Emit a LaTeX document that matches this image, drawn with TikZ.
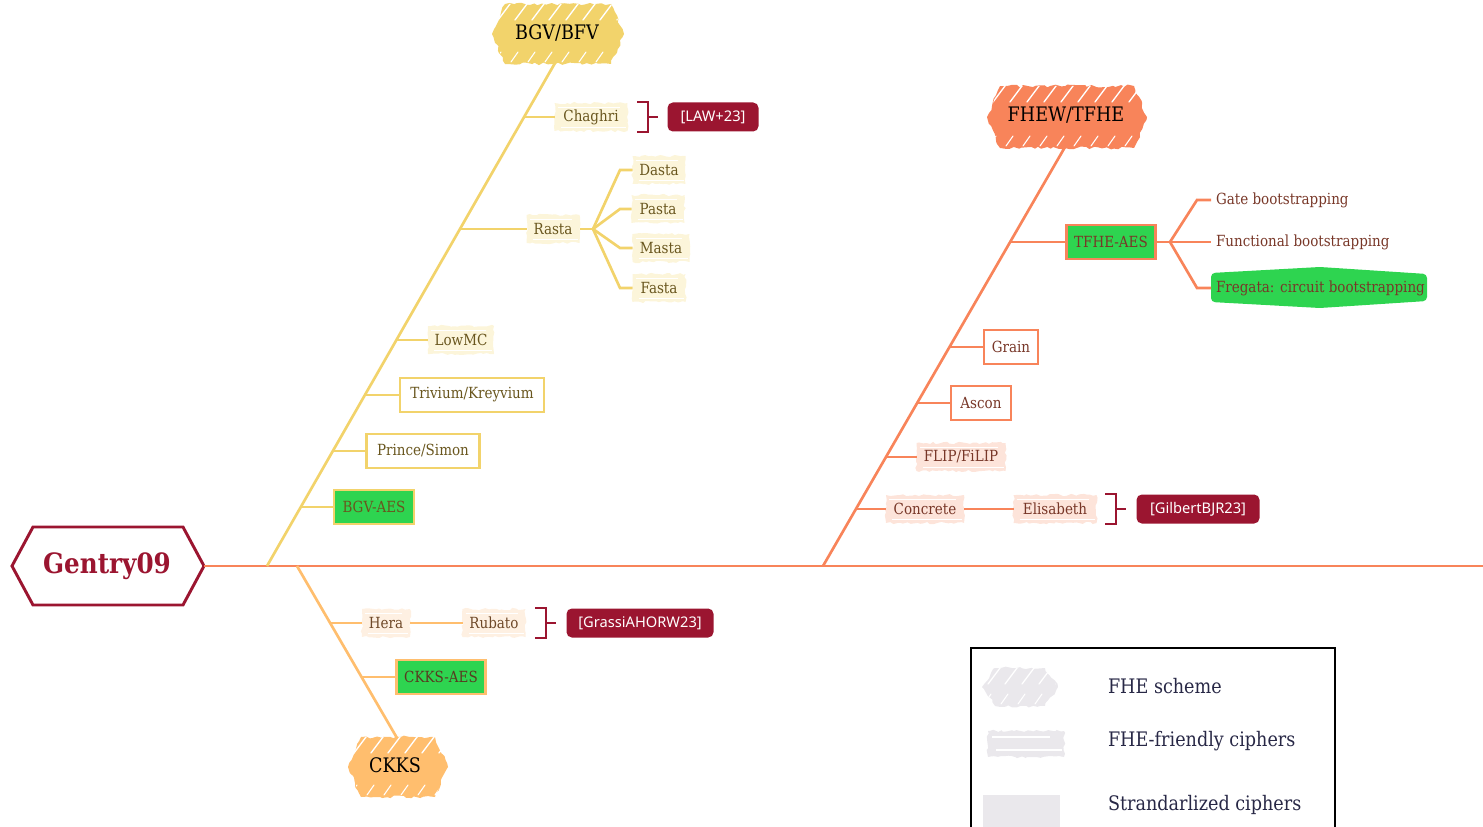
\documentclass[tikz,border=0pt]{standalone}
\usepackage{fontspec}
\setmainfont{DejaVu Serif}[FakeStretch=0.88]
\setsansfont{Noto Sans}
\usetikzlibrary{calc,decorations.pathmorphing}
\pgfdeclarelayer{background}
\pgfsetlayers{background,main}

\newdimen\px \px=0.75pt

\definecolor{gold}{RGB}{242,211,107}
\definecolor{coral}{RGB}{248,132,90}
\definecolor{apricot}{RGB}{255,190,110}
\definecolor{wine}{RGB}{155,21,48}
\definecolor{leaf}{RGB}{46,212,80}
\definecolor{paleyellow}{RGB}{252,245,218}
\definecolor{peach}{RGB}{253,228,218}
\definecolor{cream}{RGB}{254,240,226}
\definecolor{swatch}{RGB}{234,232,236}
\definecolor{olive}{RGB}{105,86,30}
\definecolor{rust}{RGB}{120,55,40}
\definecolor{umber}{RGB}{110,72,40}
\definecolor{ink}{RGB}{40,40,70}

% hatched hexagon for an FHE scheme: cx, cy, half width, half height, colour
\newcommand\schemehex[5]{%
  \begin{scope}
    \fill[#5, decorate, decoration={random steps,segment length=3pt,amplitude=1.1pt}]
      (#1-#3,#2) -- (#1-#3+13,#2-#4) -- (#1+#3-13,#2-#4) -- (#1+#3,#2)
      -- (#1+#3-13,#2+#4) -- (#1-#3+13,#2+#4) -- cycle;
    \clip (#1-#3,#2) -- (#1-#3+13,#2-#4) -- (#1+#3-13,#2-#4) -- (#1+#3,#2)
      -- (#1+#3-13,#2+#4) -- (#1-#3+13,#2+#4) -- cycle;
    \foreach \k in {0,...,12}
      \draw[white, line width=1pt, line cap=round]
        ({#1-#3+6+\k*17},{#2-#4+16}) -- ++(15,-20);
    \foreach \k in {0,...,12}
      \draw[white, line width=0.8pt, line cap=round]
        ({#1-#3+2+\k*17},{#2+#4-2}) -- ++(7,-10);
  \end{scope}}

% brush-stroke highlight behind a cipher label: node, colour
\newcommand\brush[2]{%
  \fill[#2, decorate, decoration={random steps,segment length=2.5pt,amplitude=0.9pt}]
    ($(#1.south west)+(0,-1)$) rectangle ($(#1.north east)+(0,1)$);
  \draw[white, line width=0.7pt] ($(#1.north west)+(3,5)$) -- ($(#1.north east)+(-8,5)$);
  \draw[white, line width=0.7pt] ($(#1.south west)+(6,-5)$) -- ($(#1.south east)+(-2,-5)$);
}

% bracket in front of a reference: left x, top y, bottom y
\newcommand\refbracket[3]{%
  \draw[wine, line width=1.6pt] (#1,#2) -- (#1+11,#2) -- (#1+11,#3) -- (#1,#3);
}

\tikzset{
  x=0.75pt, y=-0.75pt,
  every node/.style={inner sep=0pt, outer sep=0pt},
  label/.style={font=\fontsize{11.5}{13}\selectfont, minimum height=30\px, align=center},
  yel/.style={label, text=olive},
  cor/.style={label, text=rust},
  apr/.style={label, text=umber},
  leafnote/.style={cor, anchor=west, inner xsep=5\px},
  framed/.style={line width=1.6pt, fill=white, minimum height=34\px},
  aes/.style={line width=1.6pt, fill=leaf, minimum height=34\px},
  refbox/.style={fill=wine, text=white, rounded corners=4pt, minimum height=29\px,
    font=\sffamily\fontsize{11}{13}\selectfont},
  scheme/.style={font=\fontsize{15}{17}\selectfont, text=black},
  trunkY/.style={gold, line width=2pt},
  trunkC/.style={coral, line width=2pt},
  trunkA/.style={apricot, line width=2pt},
  legtext/.style={font=\fontsize{15}{17}\selectfont, text=ink, anchor=west},
}

\begin{document}
\begin{tikzpicture}
\useasboundingbox (0,0) rectangle (1483,827);
\pgfmathsetseed{11}

% ---------- scheme hexagons ----------
\schemehex{558}{34}{66}{30}{gold}
\schemehex{1067}{117}{80}{31}{coral}
\schemehex{398}{767}{50}{30}{apricot}

% ---------- root ----------
\path[draw=wine, line width=2.2pt, fill=white]
  (12,566) -- (33,527) -- (183,527) -- (204,566) -- (183,605) -- (33,605) -- cycle;
\node[text=wine, font=\bfseries\fontsize{21}{23}\selectfont] (gentry) at (107,566) {Gentry09};
\coordinate (gentryE) at (204,566);
\coordinate (lineend) at (1483,566);

% ---------- scheme labels ----------
\node[scheme] (bgv) at (557,33) {BGV/BFV};
\node[scheme] (fhew) at (1066,115) {FHEW/TFHE};
\node[scheme] (ckks) at (395,765) {CKKS};
\coordinate (bgvS) at (555,63);
\coordinate (fhewS) at (1065,147);
\coordinate (ckksN) at (397,738);

% ---------- BGV/BFV branch ----------
\node[yel, minimum width=73\px] (chaghri) at (591,117) {Chaghri};
\node[refbox, minimum width=91\px] (law) at (713,117) {[LAW+23]};
\node[yel, minimum width=53\px] (rasta) at (553,229) {Rasta};
\node[yel, minimum width=53\px] (dasta) at (659,170) {Dasta};
\node[yel, minimum width=53\px] (pasta) at (658,209) {Pasta};
\node[yel, minimum width=57\px] (masta) at (661,248) {Masta};
\node[yel, minimum width=53\px] (fasta) at (659,288) {Fasta};
\node[yel, minimum width=66\px] (lowmc) at (461,340) {LowMC};
\node[yel, framed, draw=gold, minimum width=144\px] (trivium) at (472,395) {Trivium/Kreyvium};
\node[yel, framed, draw=gold, minimum width=113\px] (prince) at (423,451) {Prince/Simon};
\node[yel, aes, draw=gold, minimum width=80\px] (bgvaes) at (374,507) {BGV-AES};

\coordinate (bgvroot) at (267,566);
\coordinate (tY1) at (524,117);
\coordinate (tY2) at (460,229);
\coordinate (tY3) at (396,340);
\coordinate (tY4) at (365,395);
\coordinate (tY5) at (333,451);
\coordinate (tY6) at (301,507);
\coordinate (rfan) at (593,229);
\coordinate (rD) at (620,170);
\coordinate (rP) at (620,209);
\coordinate (rM) at (620,248);
\coordinate (rF) at (620,288);

% ---------- CKKS branch ----------
\node[apr, minimum width=48\px] (hera) at (386,623) {Hera};
\node[apr, minimum width=63\px] (rubato) at (494,623) {Rubato};
\node[refbox, minimum width=147\px] (grassi) at (640,623) {[GrassiAHORW23]};
\node[apr, aes, draw=apricot, minimum width=89\px, text=umber!80!black] (ckksaes) at (441,677) {CKKS-AES};
\coordinate (ckksroot) at (297,566);
\coordinate (tA1) at (330,623);
\coordinate (tA2) at (362,677);

% ---------- FHEW/TFHE branch ----------
\node[cor, aes, draw=coral, minimum width=89\px] (tfheaes) at (1111,242) {TFHE-AES};
\node[leafnote] (gate) at (1211,200) {Gate bootstrapping};
\node[leafnote] (functional) at (1211,242) {Functional bootstrapping};
\node[leafnote] (fregata) at (1211,288) {Fregata: circuit bootstrapping};
\node[cor, framed, draw=coral, minimum width=54\px] (grain) at (1011,347) {Grain};
\node[cor, framed, draw=coral, minimum width=60\px] (ascon) at (981,403) {Ascon};
\node[cor, minimum width=89\px] (flip) at (961,457) {FLIP/FiLIP};
\node[cor, minimum width=78\px] (concrete) at (925,509) {Concrete};
\node[cor, minimum width=83\px] (elisabeth) at (1055,509) {Elisabeth};
\node[refbox, minimum width=123\px] (gilbert) at (1198,509) {[GilbertBJR23]};

\coordinate (fhewroot) at (823,566);
\coordinate (tC1) at (1010,242);
\coordinate (tC2) at (949,347);
\coordinate (tC3) at (917,403);
\coordinate (tC4) at (886,457);
\coordinate (tC5) at (856,509);
\coordinate (tfan) at (1170,242);
\coordinate (fG) at (1197,200);
\coordinate (fF) at (1197,288);

% ---------- backgrounds ----------
\begin{pgfonlayer}{background}
  \foreach \n in {chaghri,rasta,dasta,pasta,masta,fasta,lowmc} {\brush{\n}{paleyellow}}
  \foreach \n in {hera,rubato} {\brush{\n}{cream}}
  \foreach \n in {flip,concrete,elisabeth} {\brush{\n}{peach}}
  \fill[leaf, rounded corners=3pt] (1211,273) -- (1320,267) -- (1427,274)
    -- (1427,301) -- (1320,308) -- (1211,302) -- cycle;
\end{pgfonlayer}

% ---------- connectors ----------
\draw[coral, line width=2.2pt] (gentryE) -- (lineend);

\draw[trunkY] (bgvroot) -- (bgvS);
\draw[trunkY] (tY1) -- (chaghri.west);
\draw[trunkY] (tY2) -- (rasta.west);
\draw[trunkY] (tY3) -- (lowmc.west);
\draw[trunkY] (tY4) -- (trivium.west);
\draw[trunkY] (tY5) -- (prince.west);
\draw[trunkY] (tY6) -- (bgvaes.west);
\draw[trunkY] (rasta.east) -- (rfan);
\draw[trunkY] (rfan) -- (rD) -- (dasta.west);
\draw[trunkY] (rfan) -- (rP) -- (pasta.west);
\draw[trunkY] (rfan) -- (rM) -- (masta.west);
\draw[trunkY] (rfan) -- (rF) -- (fasta.west);

\draw[trunkA] (ckksroot) -- (ckksN);
\draw[trunkA] (tA1) -- (hera.west);
\draw[trunkA] (hera.east) -- (rubato.west);
\draw[trunkA] (tA2) -- (ckksaes.west);

\draw[trunkC] (fhewroot) -- (fhewS);
\draw[trunkC] (tC1) -- (tfheaes.west);
\draw[trunkC] (tC2) -- (grain.west);
\draw[trunkC] (tC3) -- (ascon.west);
\draw[trunkC] (tC4) -- (flip.west);
\draw[trunkC] (tC5) -- (concrete.west);
\draw[trunkC] (concrete.east) -- (elisabeth.west);
\draw[trunkC] (tfheaes.east) -- (tfan);
\draw[trunkC] (tfan) -- (fG) -- (gate.west);
\draw[trunkC] (tfan) -- (functional.west);
\draw[trunkC] (tfan) -- (fF) -- (fregata.west);

% ---------- brackets in front of references ----------
\refbracket{637}{102}{132}
\draw[wine, line width=1.6pt] (648,117) -- (658,117);
\refbracket{535}{608}{638}
\draw[wine, line width=1.6pt] (546,623) -- (556,623);
\refbracket{1105}{494}{524}
\draw[wine, line width=1.6pt] (1116,509) -- (1126,509);

% ---------- legend ----------
\begin{scope}
  \clip (0,0) rectangle (1483,827);
  \draw[black, line width=1.8pt] (971,648) rectangle (1335,845);
  \schemehex{1020}{687}{38}{19}{swatch}
  \fill[swatch, decorate, decoration={random steps,segment length=2.5pt,amplitude=1pt}]
    (988,731) rectangle (1064,757);
  \draw[white, line width=0.8pt] (992,737) -- (1050,737);
  \draw[white, line width=0.8pt] (996,750) -- (1062,750);
  \fill[swatch] (983,795) rectangle (1060,830);
\end{scope}
\node[legtext] (lg1) at (1108,686) {FHE scheme};
\node[legtext] (lg2) at (1108,741) {FHE-friendly ciphers};
\node[legtext] (lg3) at (1108,805) {Strandarlized ciphers};
\end{tikzpicture}
\end{document}
